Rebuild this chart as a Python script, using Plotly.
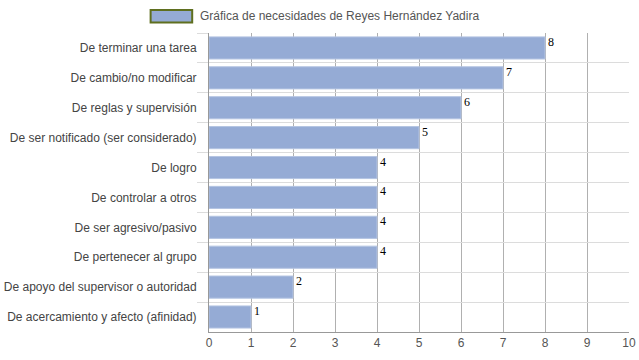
import plotly.graph_objects as go

categories = [
    "De terminar una tarea",
    "De cambio/no modificar",
    "De reglas y supervisión",
    "De ser notificado (ser considerado)",
    "De logro",
    "De controlar a otros",
    "De ser agresivo/pasivo",
    "De pertenecer al grupo",
    "De apoyo del supervisor o autoridad",
    "De acercamiento y afecto (afinidad)",
]
values = [8, 7, 6, 5, 4, 4, 4, 4, 2, 1]
series_name = "Gráfica de necesidades de Reyes Hernández Yadira"
x_ticks = list(range(0, 11))

fig = go.Figure()
fig.add_trace(go.Bar(
    x=values, y=categories, orientation="h",
    marker=dict(color="#95abd5", line=dict(color="#b4c4e2", width=1)),
    width=0.74, name=series_name, showlegend=False,
    hoverinfo="x+y",
))

for c, v in zip(categories, values):
    fig.add_annotation(x=v, y=c, xref="x", yref="y", text=str(v), showarrow=False,
                       xanchor="left", yanchor="middle", xshift=1, yshift=6,
                       font=dict(family="Liberation Serif, Times New Roman, serif", size=12, color="#000"))

# legend (custom drawn)
fig.add_shape(type="rect", xref="paper", yref="paper",
              x0=-0.139, x1=-0.040, y0=1.035, y1=1.077,
              fillcolor="#95abd5", line=dict(color="#5f6f1f", width=2))
fig.add_annotation(xref="paper", yref="paper", x=-0.027, y=1.057, text=series_name,
                   showarrow=False, xanchor="left", yanchor="middle",
                   font=dict(family="Liberation Sans, Arial, sans-serif", size=12, color="#555"))

fig.update_layout(
    width=639, height=360,
    margin=dict(l=209, r=10, t=33, b=28, autoexpand=False),
    paper_bgcolor="white", plot_bgcolor="white",
    bargap=0.26,
    font=dict(family="Liberation Sans, Arial, sans-serif", size=12, color="#444"),
    xaxis=dict(range=[0, 10], tickvals=x_ticks, showgrid=True, gridcolor="#b0b0b0", gridwidth=1,
               zeroline=False, showline=True, linecolor="#999", ticks="", tickfont=dict(color="#555"),
               automargin=False, fixedrange=True),
    yaxis=dict(autorange="reversed", tickson="boundaries", showgrid=True, gridcolor="#dcdcdc",
               ticks="outside", ticklen=11, tickcolor="#dcdcdc", showline=True, linecolor="#999",
               ticklabelstandoff=9,
               tickfont=dict(color="#444"), automargin=False, fixedrange=True),
)

fig.write_html("out.html",
               config={"displayModeBar": False},
               post_script="document.body.style.margin='0';document.body.style.overflow='hidden';")
